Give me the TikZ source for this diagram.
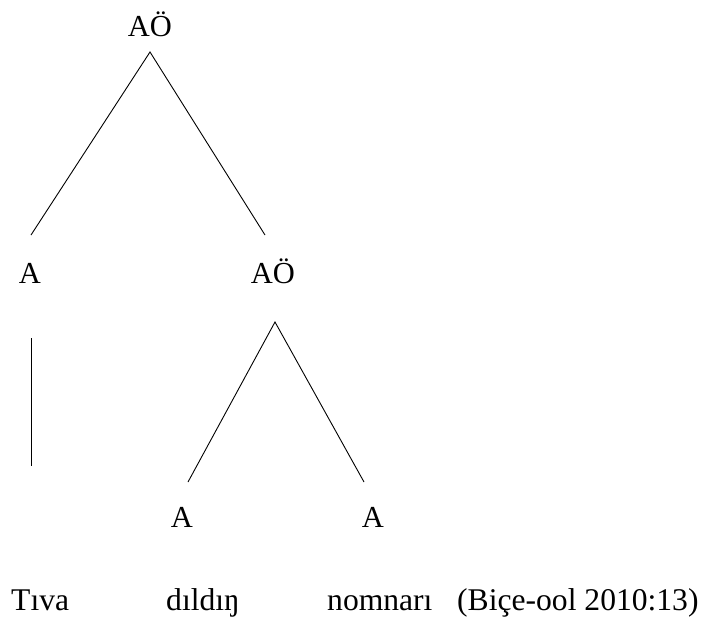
\documentclass[tikz,border=0pt]{standalone}
\usepackage{fontspec}
\setmainfont{Liberation Serif}
\begin{document}
\begin{tikzpicture}[x=1pt,y=-1pt,
  lbl/.style={inner sep=0pt,anchor=base,font=\fontsize{30.5}{36}\selectfont},
  word/.style={inner sep=0pt,anchor=base west,font=\fontsize{31.6}{37}\selectfont},
  branch/.style={line width=0.9pt}]
\useasboundingbox (0,0) rectangle (705,619);
\node[lbl] (root) at (150,36) {AÖ};
\node[lbl] (a1) at (30,283) {A};
\node[lbl] (ao) at (273,283) {AÖ};
\node[lbl] (a2) at (182,527) {A};
\node[lbl] (a3) at (373,527) {A};
\coordinate (r0) at (150,52);
\coordinate (r1) at (31,235);
\coordinate (r2) at (265,235);
\coordinate (v0) at (31,338);
\coordinate (v1) at (31,466);
\coordinate (s0) at (275,322);
\coordinate (s1) at (188,482);
\coordinate (s2) at (364,482);
\draw[branch] (r1) -- (r0) -- (r2);
\draw[branch] (v0) -- (v1);
\draw[branch] (s1) -- (s0) -- (s2);
\node[word] (w1) at (11,610) {Tıva};
\node[word] (w2) at (166,610) {dıldıŋ};
\node[word] (w3) at (327,610) {nomnarı};
\node[word] (w4) at (457,610) {(Biçe-ool 2010:13)};
\end{tikzpicture}
\end{document}
